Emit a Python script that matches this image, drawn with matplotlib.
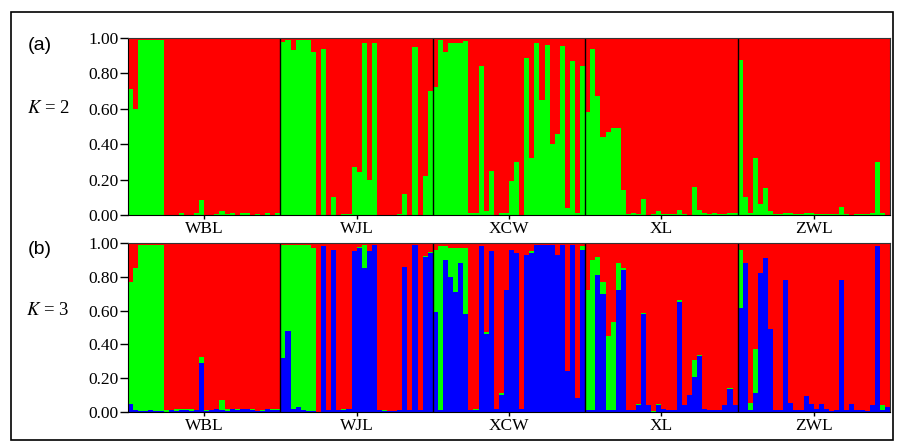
import numpy as np
import matplotlib
matplotlib.use("Agg")
import matplotlib.pyplot as plt
from matplotlib.patches import Rectangle

plt.rcParams["mathtext.fontset"] = "stix"

pops = ["WBL", "WJL", "XCW", "XL", "ZWL"]

# K = 2 : proportion of the green cluster (red = rest)
k2_green = {
    "WBL": [0.71, 0.60, 0.99, 0.99, 0.99, 0.99, 0.99, 0, 0, 0, 0.012, 0, 0, 0.01, 0.085,
            0, 0, 0.005, 0.02, 0.005, 0.012, 0, 0.01, 0.01, 0, 0.005, 0, 0.01, 0, 0.01],
    "WJL": [0.98, 0.99, 0.93, 0.99, 0.99, 0.99, 0.92, 0.0, 0.94, 0.0, 0.10, 0.0, 0.005, 0.005, 0.27,
            0.245, 0.97, 0.20, 0.97, 0.0, 0.0, 0.0, 0.0, 0.005, 0.12, 0.0, 0.95, 0.0, 0.22, 0.70],
    "XCW": [0.725, 0.99, 0.92, 0.97, 0.97, 0.97, 0.985, 0.01, 0.01, 0.84, 0.02, 0.25, 0.0, 0.01, 0.01,
            0.19, 0.30, 0.0, 0.885, 0.32, 0.97, 0.65, 0.96, 0.40, 0.46, 0.955, 0.04, 0.87, 0.01, 0.84],
    "XL": [0.58, 0.94, 0.67, 0.44, 0.47, 0.49, 0.49, 0.14, 0.005, 0.01, 0.005, 0.09, 0, 0.005, 0.02,
           0.005, 0.005, 0.005, 0.03, 0.005, 0, 0.16, 0.03, 0.01, 0.005, 0.01, 0.005, 0.005, 0.01, 0.01],
    "ZWL": [0.875, 0.10, 0.01, 0.32, 0.06, 0.15, 0.02, 0.005, 0.005, 0.01, 0.01, 0.005, 0.005, 0.01, 0.01,
            0.005, 0.005, 0.005, 0.005, 0.005, 0.045, 0.005, 0.0, 0.005, 0.005, 0.005, 0.01, 0.30, 0.01, 0.0],
}

# K = 3 : proportions of blue and green clusters (red = rest)
k3_blue = {
    "WBL": [0.05, 0.01, 0.005, 0.005, 0.01, 0.005, 0.005, 0.0, 0.01, 0.005, 0.01, 0.01, 0.005, 0.01, 0.29,
            0.005, 0.01, 0.02, 0.01, 0.005, 0.02, 0.01, 0.015, 0.015, 0.01, 0.005, 0.005, 0.02, 0.01, 0.01],
    "WJL": [0.32, 0.48, 0.02, 0.03, 0.01, 0.005, 0.005, 0.0, 0.98, 0.01, 0.96, 0.01, 0.01, 0.02, 0.95,
            0.97, 0.85, 0.95, 0.99, 0.01, 0.005, 0.005, 0.005, 0.01, 0.86, 0.01, 0.99, 0.01, 0.92, 0.94],
    "XCW": [0.59, 0.01, 0.90, 0.80, 0.71, 0.88, 0.58, 0.01, 0.01, 0.98, 0.46, 0.95, 0.015, 0.10, 0.72,
            0.96, 0.94, 0.02, 0.93, 0.94, 0.99, 0.99, 0.99, 0.99, 0.93, 0.99, 0.24, 0.99, 0.08, 0.96],
    "XL": [0.01, 0.01, 0.81, 0.70, 0.01, 0.01, 0.72, 0.84, 0.01, 0.01, 0.04, 0.58, 0.04, 0.0, 0.04,
           0.02, 0.01, 0.01, 0.65, 0.04, 0.10, 0.21, 0.33, 0.02, 0.01, 0.01, 0.01, 0.04, 0.135, 0.04],
    "ZWL": [0.615, 0.88, 0.01, 0.115, 0.82, 0.91, 0.49, 0.01, 0.01, 0.78, 0.055, 0.01, 0.01, 0.095, 0.05,
            0.02, 0.045, 0.02, 0.005, 0.01, 0.78, 0.01, 0.05, 0.01, 0.01, 0.005, 0.04, 0.98, 0.01, 0.03],
}
k3_green = {
    "WBL": [0.72, 0.84, 0.985, 0.985, 0.98, 0.985, 0.985, 0.01, 0.0, 0.01, 0.01, 0.005, 0.01, 0.0, 0.035,
            0.005, 0.0, 0.0, 0.06, 0.01, 0.0, 0.005, 0.0, 0.0, 0.005, 0.0, 0.005, 0.0, 0.005, 0.005],
    "WJL": [0.67, 0.51, 0.97, 0.96, 0.98, 0.985, 0.965, 0.0, 0.0, 0.0, 0.0, 0.0, 0.005, 0.0, 0.0,
            0.005, 0.14, 0.005, 0.0, 0.0, 0.005, 0.0, 0.0, 0.0, 0.0, 0.0, 0.0, 0.0, 0.005, 0.005],
    "XCW": [0.37, 0.97, 0.08, 0.17, 0.26, 0.09, 0.39, 0.0, 0.005, 0.0, 0.015, 0.0, 0.0, 0.01, 0.0,
            0.0, 0.0, 0.0, 0.0, 0.015, 0.0, 0.0, 0.0, 0.0, 0.0, 0.0, 0.0, 0.0, 0.0, 0.025],
    "XL": [0.71, 0.89, 0.11, 0.07, 0.44, 0.52, 0.16, 0.01, 0.0, 0.0, 0.005, 0.005, 0.0, 0.005, 0.01,
           0.0, 0.0, 0.0, 0.01, 0.0, 0.0, 0.10, 0.01, 0.0, 0.0, 0.0, 0.0, 0.0, 0.005, 0.0],
    "ZWL": [0.345, 0.0, 0.045, 0.255, 0.0, 0.0, 0.0, 0.0, 0.0, 0.0, 0.0, 0.0, 0.0, 0.0, 0.0,
            0.0, 0.0, 0.0, 0.0, 0.0, 0.0, 0.0, 0.0, 0.0, 0.0, 0.0, 0.0, 0.0, 0.03, 0.0],
}

yticks = [0.0, 0.2, 0.4, 0.6, 0.8, 1.0]
ytick_labels = ["0.00", "0.20", "0.40", "0.60", "0.80", "1.00"]

RED = "#ff0000"
GREEN = "#00ff00"
BLUE = "#0000ff"
serif = "Liberation Serif"

g2 = np.concatenate([k2_green[p] for p in pops])
b3 = np.concatenate([k3_blue[p] for p in pops])
gr3 = np.concatenate([k3_green[p] for p in pops])
sizes = [len(k2_green[p]) for p in pops]
bounds = np.cumsum(sizes)
centers = bounds - np.array(sizes) / 2
x = np.arange(len(g2))

fig = plt.figure(figsize=(8.97, 4.47), dpi=100)
ax_a = fig.add_axes([128 / 897, 1 - 215 / 447, 762 / 897, 177 / 447])
ax_b = fig.add_axes([128 / 897, 1 - 412 / 447, 762 / 897, 169 / 447])

# panel a
ax_a.bar(x, g2, width=1, align="edge", color=GREEN, linewidth=0)
ax_a.bar(x, 1 - g2, bottom=g2, width=1, align="edge", color=RED, linewidth=0)

# panel b
ax_b.bar(x, b3, width=1, align="edge", color=BLUE, linewidth=0)
ax_b.bar(x, gr3, bottom=b3, width=1, align="edge", color=GREEN, linewidth=0)
ax_b.bar(x, 1 - b3 - gr3, bottom=b3 + gr3, width=1, align="edge", color=RED, linewidth=0)

for ax, k in [(ax_a, 2), (ax_b, 3)]:
    ax.set_xlim(0, len(g2))
    ax.set_ylim(0, 1)
    for b in bounds[:-1]:
        ax.axvline(b, color="black", lw=1)
    ax.set_yticks(yticks)
    ax.set_yticklabels(ytick_labels, fontfamily=serif, fontsize=12.5)
    ax.set_xticks(centers)
    ax.set_xticklabels(pops, fontfamily=serif, fontsize=12.5)
    ax.tick_params(axis="y", length=6, width=1, pad=1)
    ax.tick_params(axis="x", length=3, width=1, pad=1)
    for s in ax.spines.values():
        s.set_linewidth(0.8)
        s.set_color("#333333")
    ax.spines["left"].set_color("black")
    ax.spines["bottom"].set_color("black")
    # K label level with the 0.60 tick
    ax.text(-0.105, 0.6, r"$K$ = %d" % k, transform=ax.transAxes,
            fontsize=13.5, family=serif, ha="center", va="center")

fig.text(40 / 897, 1 - 46 / 447, "(a)", fontsize=14, family="Liberation Sans", ha="center", va="center")
fig.text(40 / 897, 1 - 250 / 447, "(b)", fontsize=14, family="Liberation Sans", ha="center", va="center")

fig.add_artist(Rectangle((11 / 897, 7 / 447), 882 / 897, 428 / 447, transform=fig.transFigure,
                         fill=False, edgecolor="black", linewidth=1.2))

fig.savefig("out.png", dpi=100)
